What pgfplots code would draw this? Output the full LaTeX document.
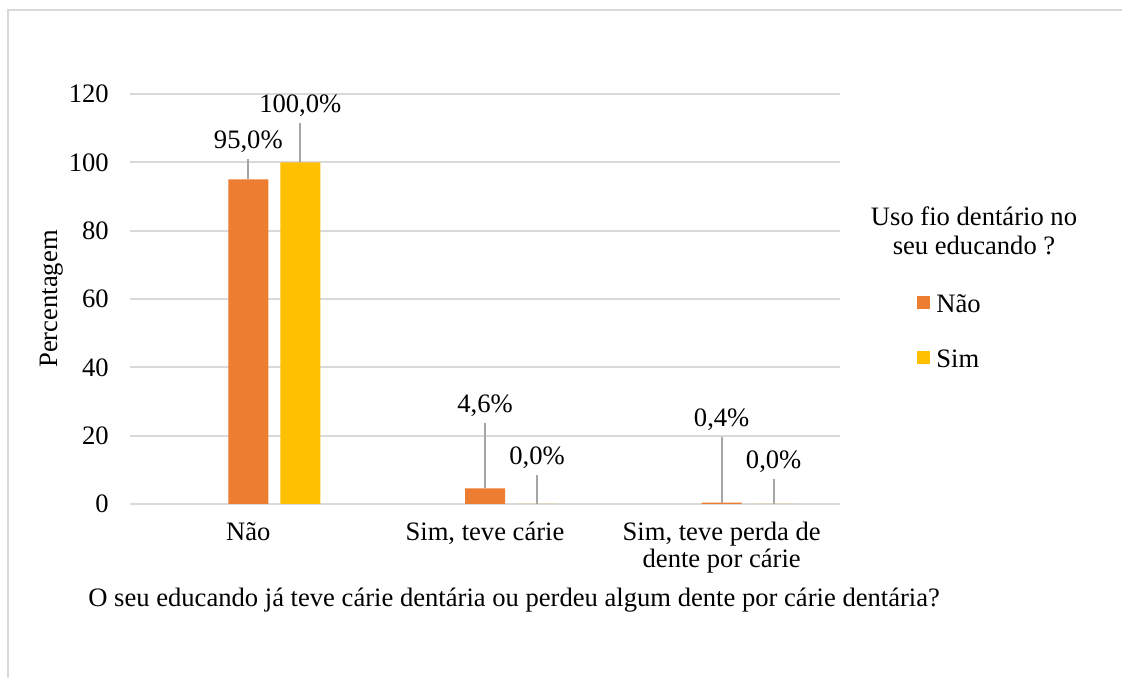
\documentclass[border=0pt]{standalone}
\usepackage{fontspec}
\setmainfont{Liberation Serif}
\usepackage{pgfplots}
\pgfplotsset{compat=1.18}
\usepackage{pgfplotstable}

\definecolor{nao}{HTML}{ED7D31}
\definecolor{simc}{HTML}{FFC000}
\definecolor{grade}{HTML}{D9D9D9}
\definecolor{guia}{HTML}{A6A6A6}

% x = category, y = percent, e = length of the leader line (data units)
\pgfplotstableread{
x y e
0 95 6.0
1 4.6 19.1
2 0.4 19.3
}\tabnao
\pgfplotstableread{
x y e
0 100 11.4
1 0 8.5
2 0 7.2
}\tabsim

\begin{document}
\fontsize{13.3}{14}\selectfont
\begin{tikzpicture}
\useasboundingbox (0,0) rectangle (561pt,339pt);
\fill[white] (0,0) rectangle (561pt,339pt);
\draw[grade, line width=1pt] (4pt,0) -- (4pt,334pt) -- (561pt,334pt);
\begin{axis}[
    at={(65pt,87pt)}, anchor=south west,
    scale only axis, width=355pt, height=205pt,
    ybar, bar width=20pt,
    xmin=-0.5, xmax=2.5, ymin=0, ymax=120,
    enlargelimits=false, clip=false,
    xtick={0,1,2},
    xticklabels={Não, {Sim, teve cárie}, {Sim, teve perda de\\dente por cárie}},
    xticklabel style={align=center, yshift=-4.5pt, font=\fontsize{13.3}{13.4}\selectfont},
    ytick={0,20,...,120},
    yticklabel style={xshift=-6pt},
    ymajorgrids, major grid style={grade, line width=1pt},
    axis line style={draw=none},
    major tick length=0pt,
    /pgf/number format/assume math mode=true,
    ylabel={Percentagem},
    every axis y label/.style={at={(axis description cs:-0.111,0.5)}, rotate=90, anchor=center},
    xlabel={O seu educando já teve cárie dentária ou perdeu algum dente por cárie dentária?},
    every axis x label/.style={at={(axis description cs:0.541,-0.251)}, anchor=base},
    point meta=y,
    visualization depends on={\thisrow{e} \as \err},
    nodes near coords={\pgfmathprintnumber[fixed,fixed zerofill,precision=1,use comma,assume math mode=true]{\pgfplotspointmeta}\%},
    every node near coord/.append style={shift={(axis direction cs:0,\err)}, inner ysep=5pt, text depth=0pt, text=black},
    legend style={at={(axis description cs:1.1085,0.511)}, anchor=north west, draw=none, fill=none,
      inner sep=0pt, row sep=18.5pt, column sep=3pt,
      nodes={inner sep=0pt, text height=9pt, text depth=0pt}},
    legend cell align=left,
    legend image code/.code={\fill[#1] (0pt,-2.5pt) rectangle (6.5pt,4pt);},
]
\addplot[fill=nao, draw=none, bar shift=0pt,
  error bars/.cd, y dir=plus, y explicit, error mark=none,
  error bar style={guia, line width=1pt}]
  table[x=x, y=y, y error=e] {\tabnao};
\addplot[fill=simc, draw=none, bar shift=26pt,
  error bars/.cd, y dir=plus, y explicit, error mark=none,
  error bar style={guia, line width=1pt}]
  table[x=x, y=y, y error=e] {\tabsim};
\legend{Não, Sim}
\end{axis}
\node[anchor=base, inner sep=0pt] at (487pt,226pt) {Uso fio dentário no};
\node[anchor=base, inner sep=0pt] at (487pt,211.5pt) {seu educando ?};
\end{tikzpicture}
\end{document}
